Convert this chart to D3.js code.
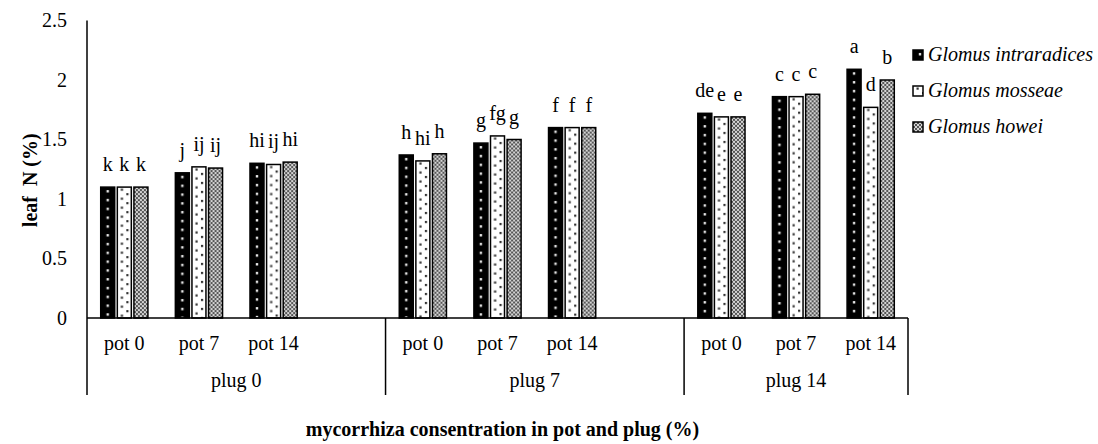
<!DOCTYPE html>
<html>
<head>
<meta charset="utf-8">
<script src="https://cdn.jsdelivr.net/npm/d3@7"></script>
<style>
  html, body { margin: 0; padding: 0; background: #fff; }
  svg { display: block; }
  svg text { font-family: "Liberation Serif", "Times New Roman", serif; }
</style>
</head>
<body>
<svg id="chart" width="1098" height="444"></svg>
<script>
// ---- data ----
const plugs = ["plug 0", "plug 7", "plug 14"];
const pots = ["pot 0", "pot 7", "pot 14"];
const seriesNames = ["Glomus intraradices", "Glomus mosseae", "Glomus howei"];
const intraradices = [1.10, 1.22, 1.30, 1.37, 1.47, 1.60, 1.72, 1.86, 2.09];
const mosseae      = [1.10, 1.27, 1.29, 1.32, 1.53, 1.60, 1.69, 1.86, 1.77];
const howei        = [1.10, 1.26, 1.31, 1.38, 1.50, 1.60, 1.69, 1.88, 2.00];
const lettersIntraradices = ["k", "j", "hi", "h", "g", "f", "de", "c", "a"];
const lettersMosseae      = ["k", "ij", "ij", "hi", "fg", "f", "e", "c", "d"];
const lettersHowei        = ["k", "ij", "hi", "h", "g", "f", "e", "c", "b"];
const yTicks = [0, 0.5, 1, 1.5, 2, 2.5];
const yTitle = "leaf  N (%)";
const xTitle = "mycorrhiza consentration in pot and plug (%)";

(function () {
const svg = d3.select("#chart");
const L = 87, R = 908, T = 20.5, base = 318, catBottom = 395;
const fs = 20;
const FF = "Liberation Serif";

const slots = [];
plugs.forEach((pl, i) => {
  pots.forEach(pt => slots.push(pl + "|" + pt));
  if (i < plugs.length - 1) slots.push(pl + "|blank");
});
const x = d3.scaleBand().domain(slots).range([L, R]).padding(0);
const y = d3.scaleLinear().domain([0, 2.5]).range([base, T]);
const xs = d3.scaleBand().domain(seriesNames).range([-23.6, 23.6]).paddingInner(0.157).paddingOuter(0);
const bw = xs.bandwidth();

// ---- patterns ----
const defs = svg.append("defs");
const p0 = defs.append("pattern").attr("id", "pat0").attr("patternUnits", "userSpaceOnUse")
  .attr("width", bw).attr("height", 8.8);
p0.append("rect").attr("width", bw).attr("height", 8.8).attr("fill", "#000");
p0.append("rect").attr("x", bw / 2 - 1.2).attr("y", 3).attr("width", 2.4).attr("height", 2.4).attr("fill", "#e8e8e8");
const p1 = defs.append("pattern").attr("id", "pat1").attr("patternUnits", "userSpaceOnUse")
  .attr("width", bw).attr("height", 9);
p1.append("rect").attr("width", bw).attr("height", 9).attr("fill", "#fff");
p1.append("rect").attr("x", 3.5).attr("y", 1.5).attr("width", 2.2).attr("height", 2.2).attr("fill", "#333");
p1.append("rect").attr("x", 9).attr("y", 6).attr("width", 2.2).attr("height", 2.2).attr("fill", "#333");
const p2 = defs.append("pattern").attr("id", "pat2").attr("patternUnits", "userSpaceOnUse")
  .attr("width", 4).attr("height", 4);
p2.append("rect").attr("width", 4).attr("height", 4).attr("fill", "#d4d4d4");
p2.append("rect").attr("x", 0).attr("y", 0).attr("width", 2).attr("height", 2).attr("fill", "#555");
p2.append("rect").attr("x", 2).attr("y", 2).attr("width", 2).attr("height", 2).attr("fill", "#555");
const patIds = ["pat0", "pat1", "pat2"];

// ---- bars ----
const seriesVals = [intraradices, mosseae, howei];
const seriesLetters = [lettersIntraradices, lettersMosseae, lettersHowei];
const barData = [];
plugs.forEach((pl, i) => {
  pots.forEach((pt, j) => {
    const k = i * pots.length + j;
    seriesNames.forEach((s, si) => {
      barData.push({ slot: pl + "|" + pt, s, si, v: seriesVals[si][k], lab: seriesLetters[si][k] });
    });
  });
});
const cx = d => x(d.slot) + x.bandwidth() / 2 + xs(d.s);

const barG = svg.append("g").selectAll("g").data(barData).join("g")
  .attr("transform", d => `translate(${cx(d)},${y(d.v)})`);
barG.append("rect")
  .attr("x", 0).attr("y", 0)
  .attr("width", bw).attr("height", d => base - y(d.v))
  .attr("fill", d => `url(#${patIds[d.si]})`)
  .attr("stroke", "#000").attr("stroke-width", 1.5);

svg.append("g").selectAll("text").data(barData).join("text")
  .attr("x", d => cx(d) + bw / 2)
  .attr("y", d => y(d.v) - 16)
  .attr("text-anchor", "middle")
  .attr("font-family", FF)
  .attr("font-size", fs)
  .attr("fill", "#000")
  .text(d => d.lab);

// ---- y axis ----
const yAxis = d3.axisLeft(y).tickValues(yTicks).tickSize(0).tickPadding(20)
  .tickFormat(d => d3.format("")(d));
const ya = svg.append("g").attr("transform", `translate(${L},0)`).call(yAxis);
ya.select(".domain").remove();
ya.attr("font-family", FF).attr("font-size", fs);
ya.selectAll("text").attr("font-size", fs).attr("font-family", FF).attr("fill", "#000");
svg.append("line").attr("x1", L).attr("x2", L).attr("y1", T).attr("y2", catBottom)
  .attr("stroke", "#000").attr("stroke-width", 1.5);

// ---- category axis ----
svg.append("line").attr("x1", L).attr("x2", R).attr("y1", base).attr("y2", base)
  .attr("stroke", "#000").attr("stroke-width", 1.5);
const sepX = plugs.map((pl) => x(pl + "|" + pots[0]));
sepX.push(R);
svg.append("g").selectAll("line").data(sepX.slice(1)).join("line")
  .attr("x1", d => d).attr("x2", d => d).attr("y1", base).attr("y2", catBottom)
  .attr("stroke", "#000").attr("stroke-width", 1.5);

const potLabels = [];
plugs.forEach(pl => pots.forEach(pt => potLabels.push({ slot: pl + "|" + pt, pt })));
svg.append("g").selectAll("text").data(potLabels).join("text")
  .attr("x", d => x(d.slot) + x.bandwidth() / 2)
  .attr("y", 350)
  .attr("text-anchor", "middle").attr("font-family", FF).attr("font-size", fs)
  .text(d => d.pt);

svg.append("g").selectAll("text").data(plugs).join("text")
  .attr("x", (d, i) => (sepX[i] + sepX[i + 1]) / 2)
  .attr("y", 387)
  .attr("text-anchor", "middle").attr("font-family", FF).attr("font-size", fs)
  .text(d => d);

// ---- titles ----
svg.append("text")
  .attr("transform", `translate(37,${(T + base) / 2 + 11}) rotate(-90)`)
  .attr("text-anchor", "middle").attr("font-family", FF).attr("font-weight", "bold").attr("font-size", 20)
  .style("white-space", "pre")
  .text(yTitle);
svg.append("text")
  .attr("x", (L + R) / 2 + 5).attr("y", 436)
  .attr("text-anchor", "middle").attr("font-family", FF).attr("font-weight", "bold").attr("font-size", 20)
  .text(xTitle);

// ---- legend ----
const leg = svg.append("g").selectAll("g").data(seriesNames).join("g")
  .attr("transform", (d, i) => `translate(913,${50 + i * 36})`);
leg.append("rect").attr("width", 10).attr("height", 10)
  .attr("fill", (d, i) => `url(#${patIds[i]})`)
  .attr("stroke", "#000").attr("stroke-width", 1.5);
leg.append("text").attr("x", 15).attr("y", 10.5)
  .attr("font-family", FF).attr("font-size", fs).attr("font-style", "italic")
  .text(d => d);
})();
</script>
</body>
</html>
